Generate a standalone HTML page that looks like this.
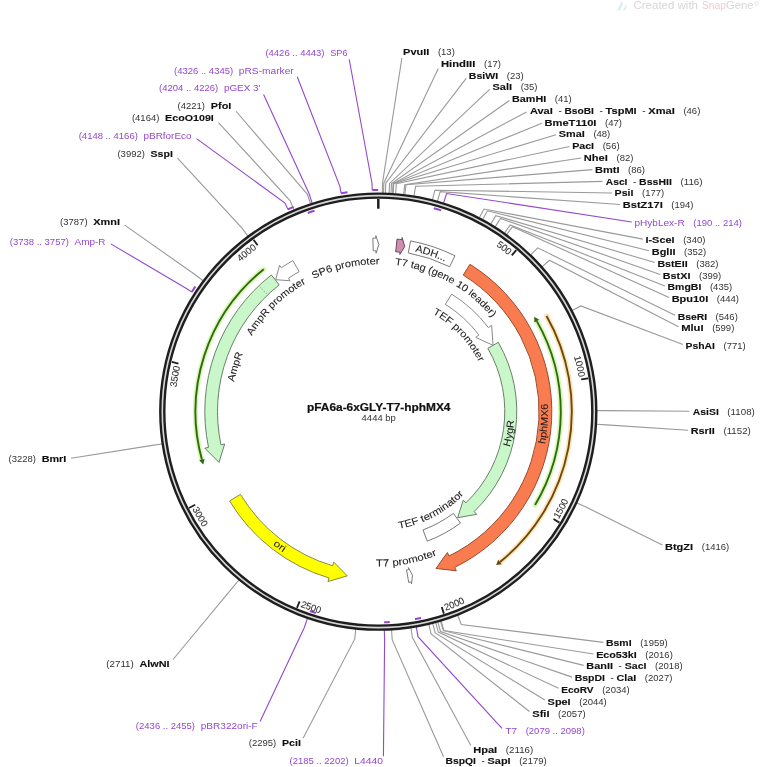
<!DOCTYPE html>
<html><head><meta charset="utf-8"><style>html,body{margin:0;padding:0;background:#fff;width:760px;height:767px;overflow:hidden}svg{display:block;filter:blur(0.35px)}text{font-family:"Liberation Sans",sans-serif}</style></head>
<body><svg width="760" height="767" viewBox="0 0 760 767" font-family="Liberation Sans, sans-serif" font-size="9.25">
<defs><path id="tk1" d="M495.87 245.75 A203.30 203.30 0 0 1 518.25 264.14"/><path id="tk2" d="M574.06 356.75 A203.30 203.30 0 0 1 580.49 390.38"/><path id="tk3" d="M558.71 519.28 A210.10 210.10 0 0 0 572.36 492.11"/><path id="tk4" d="M445.54 610.65 A210.10 210.10 0 0 0 473.57 598.86"/><path id="tk5" d="M300.14 606.62 A210.10 210.10 0 0 0 329.11 615.86"/><path id="tk6" d="M192.21 509.13 A210.10 210.10 0 0 0 208.23 534.97"/><path id="tk7" d="M176.46 387.29 A203.30 203.30 0 0 1 183.40 353.76"/><path id="tk8" d="M240.62 262.02 A203.30 203.30 0 0 1 267.67 241.04"/><path id="tp9" d="M313.68 279.12 A147.40 147.40 0 0 1 392.25 264.86"/><path id="tp10" d="M394.74 265.02 A147.50 147.50 0 0 1 499.84 328.03"/><path id="tp11" d="M251.82 335.90 A147.40 147.40 0 0 1 317.49 277.33"/><path id="tp12" d="M234.11 382.00 A147.20 147.20 0 0 1 248.61 341.97"/><path id="tp13" d="M432.60 313.64 A112.00 112.00 0 0 1 482.70 371.05"/><path id="tp14" d="M398.96 528.79 A119.00 119.00 0 0 0 470.72 486.56"/><path id="tp15" d="M376.14 566.58 A155.00 155.00 0 0 0 449.19 549.44"/><path id="tp16" d="M272.72 544.84 A170.00 170.00 0 0 0 295.86 560.27"/><path id="tp17" d="M509.65 446.87 A136.00 136.00 0 0 0 514.27 408.68"/><path id="tp18" d="M544.93 444.27 A169.80 169.80 0 0 0 546.57 388.87"/><path id="tp19" d="M415.03 251.66 A164.10 164.10 0 0 1 457.77 268.03"/></defs>
<rect width="760" height="767" fill="#fff"/>
<text x="403.05" y="54.90" font-size="9.4" font-weight="bold" stroke="#111" stroke-width="0.12" fill="#111" textLength="26.28" lengthAdjust="spacingAndGlyphs">PvuII</text>
<text x="437.93" y="54.90" font-size="9.0" fill="#333" textLength="16.89" lengthAdjust="spacingAndGlyphs">(13)</text>
<polyline points="382.32,193.04 382.50,183.14 401.89,58.00" fill="none" stroke="#9a9a9a" stroke-width="1.1"/>
<text x="440.95" y="66.70" font-size="9.4" font-weight="bold" stroke="#111" stroke-width="0.12" fill="#111" textLength="34.44" lengthAdjust="spacingAndGlyphs">HindIII</text>
<text x="483.99" y="66.70" font-size="9.0" fill="#333" textLength="16.89" lengthAdjust="spacingAndGlyphs">(17)</text>
<polyline points="383.55,193.06 383.79,183.17 438.30,68.56" fill="none" stroke="#9a9a9a" stroke-width="1.1"/>
<text x="468.85" y="78.60" font-size="9.4" font-weight="bold" stroke="#111" stroke-width="0.12" fill="#111" textLength="29.37" lengthAdjust="spacingAndGlyphs">BsiWI</text>
<text x="506.82" y="78.60" font-size="9.0" fill="#333" textLength="16.89" lengthAdjust="spacingAndGlyphs">(23)</text>
<polyline points="385.41,193.12 385.73,183.22 466.20,78.45" fill="none" stroke="#9a9a9a" stroke-width="1.1"/>
<text x="492.54" y="90.40" font-size="9.4" font-weight="bold" stroke="#111" stroke-width="0.12" fill="#111" textLength="19.52" lengthAdjust="spacingAndGlyphs">SalI</text>
<text x="520.65" y="90.40" font-size="9.0" fill="#333" textLength="16.89" lengthAdjust="spacingAndGlyphs">(35)</text>
<polyline points="389.11,193.27 389.60,183.38 489.70,89.35" fill="none" stroke="#9a9a9a" stroke-width="1.1"/>
<text x="512.05" y="102.20" font-size="9.4" font-weight="bold" stroke="#111" stroke-width="0.12" fill="#111" textLength="34.11" lengthAdjust="spacingAndGlyphs">BamHI</text>
<text x="554.76" y="102.20" font-size="9.0" fill="#333" textLength="16.89" lengthAdjust="spacingAndGlyphs">(41)</text>
<polyline points="390.96,193.37 391.54,183.48 509.40,100.56" fill="none" stroke="#9a9a9a" stroke-width="1.1"/>
<text x="529.95" y="114.00" font-size="9.4" font-weight="bold" stroke="#111" stroke-width="0.12" fill="#111" textLength="22.87" lengthAdjust="spacingAndGlyphs">AvaI</text>
<text x="558.43" y="114.00" font-size="9.4" fill="#111" textLength="3.34" lengthAdjust="spacingAndGlyphs">-</text>
<text x="564.51" y="114.00" font-size="9.4" font-weight="bold" stroke="#111" stroke-width="0.12" fill="#111" textLength="29.40" lengthAdjust="spacingAndGlyphs">BsoBI</text>
<text x="599.52" y="114.00" font-size="9.4" fill="#111" textLength="3.34" lengthAdjust="spacingAndGlyphs">-</text>
<text x="605.61" y="114.00" font-size="9.4" font-weight="bold" stroke="#111" stroke-width="0.12" fill="#111" textLength="31.08" lengthAdjust="spacingAndGlyphs">TspMI</text>
<text x="642.29" y="114.00" font-size="9.4" fill="#111" textLength="3.34" lengthAdjust="spacingAndGlyphs">-</text>
<text x="648.38" y="114.00" font-size="9.4" font-weight="bold" stroke="#111" stroke-width="0.12" fill="#111" textLength="26.45" lengthAdjust="spacingAndGlyphs">XmaI</text>
<text x="683.43" y="114.00" font-size="9.0" fill="#333" textLength="16.89" lengthAdjust="spacingAndGlyphs">(46)</text>
<polyline points="392.51,193.46 393.15,183.58 526.50,111.94" fill="none" stroke="#9a9a9a" stroke-width="1.1"/>
<text x="544.45" y="125.70" font-size="9.4" font-weight="bold" stroke="#111" stroke-width="0.12" fill="#111" textLength="52.02" lengthAdjust="spacingAndGlyphs">BmeT110I</text>
<text x="605.07" y="125.70" font-size="9.0" fill="#333" textLength="16.89" lengthAdjust="spacingAndGlyphs">(47)</text>
<polyline points="392.82,193.48 393.47,183.60 541.80,123.32" fill="none" stroke="#9a9a9a" stroke-width="1.1"/>
<text x="558.84" y="137.40" font-size="9.4" font-weight="bold" stroke="#111" stroke-width="0.12" fill="#111" textLength="25.98" lengthAdjust="spacingAndGlyphs">SmaI</text>
<text x="593.42" y="137.40" font-size="9.0" fill="#333" textLength="16.89" lengthAdjust="spacingAndGlyphs">(48)</text>
<polyline points="393.12,193.50 393.80,183.63 556.00,134.75" fill="none" stroke="#9a9a9a" stroke-width="1.1"/>
<text x="572.15" y="149.40" font-size="9.4" font-weight="bold" stroke="#111" stroke-width="0.12" fill="#111" textLength="21.95" lengthAdjust="spacingAndGlyphs">PacI</text>
<text x="602.70" y="149.40" font-size="9.0" fill="#333" textLength="16.89" lengthAdjust="spacingAndGlyphs">(56)</text>
<polyline points="395.59,193.68 396.37,183.82 569.50,146.54" fill="none" stroke="#9a9a9a" stroke-width="1.1"/>
<text x="583.85" y="161.00" font-size="9.4" font-weight="bold" stroke="#111" stroke-width="0.12" fill="#111" textLength="24.04" lengthAdjust="spacingAndGlyphs">NheI</text>
<text x="616.49" y="161.00" font-size="9.0" fill="#333" textLength="16.89" lengthAdjust="spacingAndGlyphs">(82)</text>
<polyline points="403.59,194.47 404.73,184.63 581.20,157.98" fill="none" stroke="#9a9a9a" stroke-width="1.1"/>
<text x="594.95" y="172.80" font-size="9.4" font-weight="bold" stroke="#111" stroke-width="0.12" fill="#111" textLength="24.55" lengthAdjust="spacingAndGlyphs">BmtI</text>
<text x="628.10" y="172.80" font-size="9.0" fill="#333" textLength="16.89" lengthAdjust="spacingAndGlyphs">(86)</text>
<polyline points="404.81,194.61 406.02,184.79 592.30,169.60" fill="none" stroke="#9a9a9a" stroke-width="1.1"/>
<text x="605.85" y="184.70" font-size="9.4" font-weight="bold" stroke="#111" stroke-width="0.12" fill="#111" textLength="21.59" lengthAdjust="spacingAndGlyphs">AscI</text>
<text x="633.04" y="184.70" font-size="9.4" fill="#111" textLength="3.34" lengthAdjust="spacingAndGlyphs">-</text>
<text x="639.13" y="184.70" font-size="9.4" font-weight="bold" stroke="#111" stroke-width="0.12" fill="#111" textLength="32.69" lengthAdjust="spacingAndGlyphs">BssHII</text>
<text x="680.42" y="184.70" font-size="9.0" fill="#333" textLength="22.18" lengthAdjust="spacingAndGlyphs">(116)</text>
<polyline points="413.99,195.93 415.61,186.17 602.40,181.36" fill="none" stroke="#9a9a9a" stroke-width="1.1"/>
<text x="614.55" y="196.40" font-size="9.4" font-weight="bold" stroke="#111" stroke-width="0.12" fill="#111" textLength="18.90" lengthAdjust="spacingAndGlyphs">PsiI</text>
<text x="642.05" y="196.40" font-size="9.0" fill="#333" textLength="22.18" lengthAdjust="spacingAndGlyphs">(177)</text>
<polyline points="432.44,199.81 434.89,190.22 611.90,192.96" fill="none" stroke="#9a9a9a" stroke-width="1.1"/>
<text x="622.75" y="208.10" font-size="9.4" font-weight="bold" stroke="#111" stroke-width="0.12" fill="#111" textLength="40.00" lengthAdjust="spacingAndGlyphs">BstZ17I</text>
<text x="671.35" y="208.10" font-size="9.0" fill="#333" textLength="22.18" lengthAdjust="spacingAndGlyphs">(194)</text>
<polyline points="437.51,201.17 440.19,191.64 620.10,204.52" fill="none" stroke="#9a9a9a" stroke-width="1.1"/>
<text x="645.45" y="243.00" font-size="9.4" font-weight="bold" stroke="#111" stroke-width="0.12" fill="#111" textLength="29.14" lengthAdjust="spacingAndGlyphs">I-SceI</text>
<text x="683.19" y="243.00" font-size="9.0" fill="#333" textLength="22.18" lengthAdjust="spacingAndGlyphs">(340)</text>
<polyline points="479.38,217.77 483.96,209.00 642.80,239.13" fill="none" stroke="#9a9a9a" stroke-width="1.1"/>
<text x="651.75" y="254.70" font-size="9.4" font-weight="bold" stroke="#111" stroke-width="0.12" fill="#111" textLength="23.73" lengthAdjust="spacingAndGlyphs">BglII</text>
<text x="684.08" y="254.70" font-size="9.0" fill="#333" textLength="22.18" lengthAdjust="spacingAndGlyphs">(352)</text>
<polyline points="482.66,219.52 487.38,210.82 649.10,250.68" fill="none" stroke="#9a9a9a" stroke-width="1.1"/>
<text x="657.45" y="266.70" font-size="9.4" font-weight="bold" stroke="#111" stroke-width="0.12" fill="#111" textLength="30.18" lengthAdjust="spacingAndGlyphs">BstEII</text>
<text x="696.23" y="266.70" font-size="9.0" fill="#333" textLength="22.18" lengthAdjust="spacingAndGlyphs">(382)</text>
<polyline points="490.71,224.12 495.80,215.62 654.80,262.56" fill="none" stroke="#9a9a9a" stroke-width="1.1"/>
<text x="662.85" y="278.70" font-size="9.4" font-weight="bold" stroke="#111" stroke-width="0.12" fill="#111" textLength="27.55" lengthAdjust="spacingAndGlyphs">BstXI</text>
<text x="699.00" y="278.70" font-size="9.0" fill="#333" textLength="22.18" lengthAdjust="spacingAndGlyphs">(399)</text>
<polyline points="495.18,226.87 500.47,218.51 660.20,274.42" fill="none" stroke="#9a9a9a" stroke-width="1.1"/>
<text x="667.55" y="290.40" font-size="9.4" font-weight="bold" stroke="#111" stroke-width="0.12" fill="#111" textLength="33.80" lengthAdjust="spacingAndGlyphs">BmgBI</text>
<text x="709.95" y="290.40" font-size="9.0" fill="#333" textLength="22.18" lengthAdjust="spacingAndGlyphs">(435)</text>
<polyline points="504.43,233.06 510.14,224.97 664.90,286.01" fill="none" stroke="#9a9a9a" stroke-width="1.1"/>
<text x="671.65" y="302.10" font-size="9.4" font-weight="bold" stroke="#111" stroke-width="0.12" fill="#111" textLength="36.57" lengthAdjust="spacingAndGlyphs">Bpu10I</text>
<text x="716.82" y="302.10" font-size="9.0" fill="#333" textLength="22.18" lengthAdjust="spacingAndGlyphs">(444)</text>
<polyline points="506.69,234.68 512.50,226.66 669.00,297.57" fill="none" stroke="#9a9a9a" stroke-width="1.1"/>
<text x="677.65" y="319.80" font-size="9.4" font-weight="bold" stroke="#111" stroke-width="0.12" fill="#111" textLength="29.39" lengthAdjust="spacingAndGlyphs">BseRI</text>
<text x="715.64" y="319.80" font-size="9.0" fill="#333" textLength="22.18" lengthAdjust="spacingAndGlyphs">(546)</text>
<polyline points="530.78,254.96 537.69,247.87 675.00,315.17" fill="none" stroke="#9a9a9a" stroke-width="1.1"/>
<text x="681.15" y="331.40" font-size="9.4" font-weight="bold" stroke="#111" stroke-width="0.12" fill="#111" textLength="22.40" lengthAdjust="spacingAndGlyphs">MluI</text>
<text x="712.15" y="331.40" font-size="9.0" fill="#333" textLength="22.18" lengthAdjust="spacingAndGlyphs">(599)</text>
<polyline points="542.08,266.82 549.50,260.26 678.50,326.71" fill="none" stroke="#9a9a9a" stroke-width="1.1"/>
<text x="685.55" y="348.80" font-size="9.4" font-weight="bold" stroke="#111" stroke-width="0.12" fill="#111" textLength="29.47" lengthAdjust="spacingAndGlyphs">PshAI</text>
<text x="723.62" y="348.80" font-size="9.0" fill="#333" textLength="22.18" lengthAdjust="spacingAndGlyphs">(771)</text>
<polyline points="572.13,310.52 580.90,305.94 682.90,344.46" fill="none" stroke="#9a9a9a" stroke-width="1.1"/>
<text x="692.85" y="414.60" font-size="9.4" font-weight="bold" stroke="#111" stroke-width="0.12" fill="#111" textLength="25.94" lengthAdjust="spacingAndGlyphs">AsiSI</text>
<text x="727.39" y="414.60" font-size="9.0" fill="#333" textLength="27.46" lengthAdjust="spacingAndGlyphs">(1108)</text>
<polyline points="596.90,410.67 606.80,410.63 689.40,411.18" fill="none" stroke="#9a9a9a" stroke-width="1.1"/>
<text x="690.75" y="433.80" font-size="9.4" font-weight="bold" stroke="#111" stroke-width="0.12" fill="#111" textLength="24.07" lengthAdjust="spacingAndGlyphs">RsrII</text>
<text x="723.42" y="433.80" font-size="9.0" fill="#333" textLength="27.46" lengthAdjust="spacingAndGlyphs">(1152)</text>
<polyline points="596.53,424.26 606.42,424.84 688.10,430.23" fill="none" stroke="#9a9a9a" stroke-width="1.1"/>
<text x="664.95" y="549.60" font-size="9.4" font-weight="bold" stroke="#111" stroke-width="0.12" fill="#111" textLength="28.24" lengthAdjust="spacingAndGlyphs">BtgZI</text>
<text x="701.79" y="549.60" font-size="9.0" fill="#333" textLength="27.46" lengthAdjust="spacingAndGlyphs">(1416)</text>
<polyline points="576.89,502.97 585.88,507.11 662.30,544.96" fill="none" stroke="#9a9a9a" stroke-width="1.1"/>
<text x="605.95" y="646.10" font-size="9.4" font-weight="bold" stroke="#111" stroke-width="0.12" fill="#111" textLength="25.64" lengthAdjust="spacingAndGlyphs">BsmI</text>
<text x="640.19" y="646.10" font-size="9.0" fill="#333" textLength="27.46" lengthAdjust="spacingAndGlyphs">(1959)</text>
<polyline points="457.72,615.26 461.32,624.48 603.30,642.38" fill="none" stroke="#9a9a9a" stroke-width="1.1"/>
<text x="596.15" y="657.80" font-size="9.4" font-weight="bold" stroke="#111" stroke-width="0.12" fill="#111" textLength="40.62" lengthAdjust="spacingAndGlyphs">Eco53kI</text>
<text x="645.37" y="657.80" font-size="9.0" fill="#333" textLength="27.46" lengthAdjust="spacingAndGlyphs">(2016)</text>
<polyline points="441.07,620.99 443.91,630.48 593.50,654.01" fill="none" stroke="#9a9a9a" stroke-width="1.1"/>
<text x="586.25" y="669.40" font-size="9.4" font-weight="bold" stroke="#111" stroke-width="0.12" fill="#111" textLength="26.76" lengthAdjust="spacingAndGlyphs">BanII</text>
<text x="618.61" y="669.40" font-size="9.4" fill="#111" textLength="3.34" lengthAdjust="spacingAndGlyphs">-</text>
<text x="624.70" y="669.40" font-size="9.4" font-weight="bold" stroke="#111" stroke-width="0.12" fill="#111" textLength="21.83" lengthAdjust="spacingAndGlyphs">SacI</text>
<text x="655.13" y="669.40" font-size="9.0" fill="#333" textLength="27.46" lengthAdjust="spacingAndGlyphs">(2018)</text>
<polyline points="440.48,621.17 443.30,630.66 583.60,665.38" fill="none" stroke="#9a9a9a" stroke-width="1.1"/>
<text x="574.65" y="681.40" font-size="9.4" font-weight="bold" stroke="#111" stroke-width="0.12" fill="#111" textLength="30.30" lengthAdjust="spacingAndGlyphs">BspDI</text>
<text x="610.55" y="681.40" font-size="9.4" fill="#111" textLength="3.34" lengthAdjust="spacingAndGlyphs">-</text>
<text x="616.64" y="681.40" font-size="9.4" font-weight="bold" stroke="#111" stroke-width="0.12" fill="#111" textLength="19.64" lengthAdjust="spacingAndGlyphs">ClaI</text>
<text x="644.88" y="681.40" font-size="9.0" fill="#333" textLength="27.46" lengthAdjust="spacingAndGlyphs">(2027)</text>
<polyline points="437.81,621.94 440.50,631.47 572.00,677.13" fill="none" stroke="#9a9a9a" stroke-width="1.1"/>
<text x="561.15" y="692.90" font-size="9.4" font-weight="bold" stroke="#111" stroke-width="0.12" fill="#111" textLength="32.44" lengthAdjust="spacingAndGlyphs">EcoRV</text>
<text x="602.19" y="692.90" font-size="9.0" fill="#333" textLength="27.46" lengthAdjust="spacingAndGlyphs">(2034)</text>
<polyline points="435.72,622.52 438.32,632.08 558.50,688.33" fill="none" stroke="#9a9a9a" stroke-width="1.1"/>
<text x="547.64" y="704.90" font-size="9.4" font-weight="bold" stroke="#111" stroke-width="0.12" fill="#111" textLength="23.00" lengthAdjust="spacingAndGlyphs">SpeI</text>
<text x="579.23" y="704.90" font-size="9.0" fill="#333" textLength="27.46" lengthAdjust="spacingAndGlyphs">(2044)</text>
<polyline points="432.74,623.31 435.20,632.90 544.80,699.97" fill="none" stroke="#9a9a9a" stroke-width="1.1"/>
<text x="532.24" y="716.90" font-size="9.4" font-weight="bold" stroke="#111" stroke-width="0.12" fill="#111" textLength="17.30" lengthAdjust="spacingAndGlyphs">SfiI</text>
<text x="558.13" y="716.90" font-size="9.0" fill="#333" textLength="27.46" lengthAdjust="spacingAndGlyphs">(2057)</text>
<polyline points="428.84,624.28 431.12,633.91 529.40,711.53" fill="none" stroke="#9a9a9a" stroke-width="1.1"/>
<text x="473.15" y="752.80" font-size="9.4" font-weight="bold" stroke="#111" stroke-width="0.12" fill="#111" textLength="24.05" lengthAdjust="spacingAndGlyphs">HpaI</text>
<text x="505.80" y="752.80" font-size="9.0" fill="#333" textLength="27.46" lengthAdjust="spacingAndGlyphs">(2116)</text>
<polyline points="410.94,627.75 412.42,637.54 470.83,745.40" fill="none" stroke="#9a9a9a" stroke-width="1.1"/>
<text x="445.45" y="764.10" font-size="9.4" font-weight="bold" stroke="#111" stroke-width="0.12" fill="#111" textLength="30.48" lengthAdjust="spacingAndGlyphs">BspQI</text>
<text x="481.53" y="764.10" font-size="9.4" fill="#111" textLength="3.34" lengthAdjust="spacingAndGlyphs">-</text>
<text x="487.62" y="764.10" font-size="9.4" font-weight="bold" stroke="#111" stroke-width="0.12" fill="#111" textLength="22.97" lengthAdjust="spacingAndGlyphs">SapI</text>
<text x="519.19" y="764.10" font-size="9.0" fill="#333" textLength="27.46" lengthAdjust="spacingAndGlyphs">(2179)</text>
<polyline points="391.58,629.80 392.18,639.68 443.54,756.70" fill="none" stroke="#9a9a9a" stroke-width="1.1"/>
<text x="8.50" y="462.40" font-size="9.0" fill="#333" textLength="27.46" lengthAdjust="spacingAndGlyphs">(3228)</text>
<text x="41.66" y="462.40" font-size="9.4" font-weight="bold" stroke="#111" stroke-width="0.12" fill="#111" textLength="24.69" lengthAdjust="spacingAndGlyphs">BmrI</text>
<polyline points="162.10,443.93 152.31,445.40 71.00,458.29" fill="none" stroke="#9a9a9a" stroke-width="1.1"/>
<text x="106.33" y="666.90" font-size="9.0" fill="#333" textLength="27.46" lengthAdjust="spacingAndGlyphs">(2711)</text>
<text x="139.50" y="666.90" font-size="9.4" font-weight="bold" stroke="#111" stroke-width="0.12" fill="#111" textLength="30.06" lengthAdjust="spacingAndGlyphs">AlwNI</text>
<polyline points="238.92,580.00 232.61,587.63 173.02,659.50" fill="none" stroke="#9a9a9a" stroke-width="1.1"/>
<text x="248.82" y="745.60" font-size="9.0" fill="#333" textLength="27.46" lengthAdjust="spacingAndGlyphs">(2295)</text>
<text x="281.98" y="745.60" font-size="9.4" font-weight="bold" stroke="#111" stroke-width="0.12" fill="#111" textLength="18.87" lengthAdjust="spacingAndGlyphs">PciI</text>
<polyline points="355.78,629.04 354.76,638.88 303.08,738.20" fill="none" stroke="#9a9a9a" stroke-width="1.1"/>
<text x="60.10" y="225.40" font-size="9.0" fill="#333" textLength="27.46" lengthAdjust="spacingAndGlyphs">(3787)</text>
<text x="93.26" y="225.40" font-size="9.4" font-weight="bold" stroke="#111" stroke-width="0.12" fill="#111" textLength="26.80" lengthAdjust="spacingAndGlyphs">XmnI</text>
<polyline points="203.21,280.72 195.28,274.79 124.70,225.16" fill="none" stroke="#9a9a9a" stroke-width="1.1"/>
<text x="117.46" y="156.70" font-size="9.0" fill="#333" textLength="27.46" lengthAdjust="spacingAndGlyphs">(3992)</text>
<text x="150.62" y="156.70" font-size="9.4" font-weight="bold" stroke="#111" stroke-width="0.12" fill="#111" textLength="22.23" lengthAdjust="spacingAndGlyphs">SspI</text>
<polyline points="247.92,236.14 242.01,228.19 177.50,158.18" fill="none" stroke="#9a9a9a" stroke-width="1.1"/>
<text x="131.92" y="121.00" font-size="9.0" fill="#333" textLength="27.46" lengthAdjust="spacingAndGlyphs">(4164)</text>
<text x="165.08" y="121.00" font-size="9.4" font-weight="bold" stroke="#111" stroke-width="0.12" fill="#111" textLength="48.77" lengthAdjust="spacingAndGlyphs">EcoO109I</text>
<polyline points="294.00,209.91 290.19,200.77 218.50,122.51" fill="none" stroke="#9a9a9a" stroke-width="1.1"/>
<text x="177.59" y="109.40" font-size="9.0" fill="#333" textLength="27.46" lengthAdjust="spacingAndGlyphs">(4221)</text>
<text x="210.75" y="109.40" font-size="9.4" font-weight="bold" stroke="#111" stroke-width="0.12" fill="#111" textLength="20.60" lengthAdjust="spacingAndGlyphs">PfoI</text>
<polyline points="310.51,203.78 307.44,194.36 236.00,111.24" fill="none" stroke="#9a9a9a" stroke-width="1.1"/>
<text x="634.46" y="225.70" font-size="9.4" fill="#9447cf" textLength="50.26" lengthAdjust="spacingAndGlyphs">pHybLex-R</text>
<text x="693.32" y="225.70" font-size="9.0" fill="#9447cf" textLength="48.59" lengthAdjust="spacingAndGlyphs">(190 .. 214)</text>
<path d="M433.82 208.24 A210.80 210.80 0 0 1 441.25 210.42" fill="none" stroke="#9447cf" stroke-width="2.0"/>
<polyline points="443.58,202.98 446.54,193.53 631.80,221.92" fill="none" stroke="#9447cf" stroke-width="1.1"/>
<text x="505.53" y="734.40" font-size="9.4" fill="#9447cf" textLength="11.54" lengthAdjust="spacingAndGlyphs">T7</text>
<text x="525.66" y="734.40" font-size="9.0" fill="#9447cf" textLength="59.15" lengthAdjust="spacingAndGlyphs">(2079 .. 2098)</text>
<path d="M421.07 618.02 A210.80 210.80 0 0 1 414.92 619.19" fill="none" stroke="#9447cf" stroke-width="2.0"/>
<polyline points="416.28,626.88 418.00,636.63 502.00,728.27" fill="none" stroke="#9447cf" stroke-width="1.1"/>
<text x="135.89" y="728.90" font-size="9.0" fill="#9447cf" textLength="59.15" lengthAdjust="spacingAndGlyphs">(2436 .. 2455)</text>
<text x="200.75" y="728.90" font-size="9.4" fill="#9447cf" textLength="56.99" lengthAdjust="spacingAndGlyphs">pBR322ori-F</text>
<path d="M315.91 612.96 A210.80 210.80 0 0 1 309.96 611.02" fill="none" stroke="#9447cf" stroke-width="2.0"/>
<polyline points="307.44,618.40 304.23,627.76 260.08,721.50" fill="none" stroke="#9447cf" stroke-width="1.1"/>
<text x="289.47" y="763.60" font-size="9.0" fill="#9447cf" textLength="59.15" lengthAdjust="spacingAndGlyphs">(2185 .. 2202)</text>
<text x="354.32" y="763.60" font-size="9.4" fill="#9447cf" textLength="28.69" lengthAdjust="spacingAndGlyphs">L4440</text>
<path d="M389.77 622.09 A210.80 210.80 0 0 1 384.11 622.32" fill="none" stroke="#9447cf" stroke-width="2.0"/>
<polyline points="384.33,630.12 384.60,640.01 383.44,756.20" fill="none" stroke="#9447cf" stroke-width="1.1"/>
<text x="9.74" y="244.60" font-size="9.0" fill="#9447cf" textLength="59.15" lengthAdjust="spacingAndGlyphs">(3738 .. 3757)</text>
<text x="74.59" y="244.60" font-size="9.4" fill="#9447cf" textLength="30.97" lengthAdjust="spacingAndGlyphs">Amp-R</text>
<path d="M191.79 291.93 A221.60 221.60 0 0 1 195.43 286.44" fill="none" stroke="#9447cf" stroke-width="2.0"/>
<polyline points="191.79,291.93 185.99,288.20 110.80,243.85" fill="none" stroke="#9447cf" stroke-width="1.1"/>
<text x="78.70" y="138.70" font-size="9.0" fill="#9447cf" textLength="59.15" lengthAdjust="spacingAndGlyphs">(4148 .. 4166)</text>
<text x="143.55" y="138.70" font-size="9.4" fill="#9447cf" textLength="47.95" lengthAdjust="spacingAndGlyphs">pBRforEco</text>
<path d="M287.81 209.32 A221.60 221.60 0 0 1 293.57 206.84" fill="none" stroke="#9447cf" stroke-width="2.0"/>
<polyline points="287.81,209.32 285.00,203.02 196.50,138.58" fill="none" stroke="#9447cf" stroke-width="1.1"/>
<text x="159.04" y="91.40" font-size="9.0" fill="#9447cf" textLength="59.15" lengthAdjust="spacingAndGlyphs">(4204 .. 4226)</text>
<text x="223.90" y="91.40" font-size="9.4" fill="#9447cf" textLength="36.59" lengthAdjust="spacingAndGlyphs">pGEX 3'</text>
<path d="M307.71 212.97 A210.80 210.80 0 0 1 314.49 210.69" fill="none" stroke="#9447cf" stroke-width="2.0"/>
<polyline points="312.13,203.25 309.14,193.82 263.58,94.50" fill="none" stroke="#9447cf" stroke-width="1.1"/>
<text x="174.01" y="73.70" font-size="9.0" fill="#9447cf" textLength="59.15" lengthAdjust="spacingAndGlyphs">(4326 .. 4345)</text>
<text x="238.86" y="73.70" font-size="9.4" fill="#9447cf" textLength="54.84" lengthAdjust="spacingAndGlyphs">pRS-marker</text>
<path d="M341.04 193.16 A221.60 221.60 0 0 1 347.54 192.15" fill="none" stroke="#9447cf" stroke-width="2.0"/>
<polyline points="341.04,193.16 339.88,186.35 297.23,76.80" fill="none" stroke="#9447cf" stroke-width="1.1"/>
<text x="265.40" y="56.15" font-size="9.0" fill="#9447cf" textLength="59.15" lengthAdjust="spacingAndGlyphs">(4426 .. 4443)</text>
<text x="330.25" y="56.15" font-size="9.4" fill="#9447cf" textLength="17.33" lengthAdjust="spacingAndGlyphs">SP6</text>
<path d="M372.19 190.08 A221.60 221.60 0 0 1 378.14 190.00" fill="none" stroke="#9447cf" stroke-width="2.0"/>
<polyline points="372.19,190.08 372.00,183.19 349.20,59.25" fill="none" stroke="#9447cf" stroke-width="1.1"/>
<g><path d="M617.5 10.5 L621.5 2 L623.2 2.8 L619.6 10.5 Z" fill="#d3e8ef"/><path d="M623 10.5 L625.6 5.2 L627 5.9 L624.8 10.5Z" fill="#dcedf2"/></g>
<text x="633.5" y="9.3" font-size="10" fill="#d6d6d6" textLength="64.5" lengthAdjust="spacingAndGlyphs">Created with</text>
<text x="702" y="9.3" font-size="10" fill="#f2cccc" textLength="24" lengthAdjust="spacingAndGlyphs">Snap</text>
<text x="726" y="9.3" font-size="10" fill="#d6d6d6" textLength="27.5" lengthAdjust="spacingAndGlyphs">Gene</text>
<text x="754.3" y="5.5" font-size="6" fill="#d6d6d6">®</text>
<circle cx="378.3" cy="411.6" r="216.0" fill="none" stroke="#1e1e1e" stroke-width="6.4"/>
<circle cx="378.3" cy="411.6" r="216.0" fill="none" stroke="#d6d6d6" stroke-width="1.6"/>
<line x1="378.30" y1="199.00" x2="378.30" y2="208.70" stroke="#1e1e1e" stroke-width="2.5"/>
<line x1="516.25" y1="250.10" x2="511.77" y2="255.35" stroke="#1e1e1e" stroke-width="1.8"/>
<text font-size="9.5" fill="#333" stroke="#333" stroke-width="0.1"><textPath href="#tk1" textLength="15.85" lengthAdjust="spacingAndGlyphs">500</textPath></text>
<line x1="588.09" y1="378.40" x2="581.27" y2="379.48" stroke="#1e1e1e" stroke-width="1.8"/>
<text font-size="9.5" fill="#333" stroke="#333" stroke-width="0.1"><textPath href="#tk2" textLength="21.13" lengthAdjust="spacingAndGlyphs">1000</textPath></text>
<line x1="559.38" y1="522.62" x2="553.49" y2="519.01" stroke="#1e1e1e" stroke-width="1.8"/>
<text font-size="9.5" fill="#333" stroke="#333" stroke-width="0.1"><textPath href="#tk3" textLength="21.13" lengthAdjust="spacingAndGlyphs">1500</textPath></text>
<line x1="443.88" y1="613.62" x2="441.75" y2="607.06" stroke="#1e1e1e" stroke-width="1.8"/>
<text font-size="9.5" fill="#333" stroke="#333" stroke-width="0.1"><textPath href="#tk4" textLength="21.13" lengthAdjust="spacingAndGlyphs">2000</textPath></text>
<line x1="296.95" y1="607.80" x2="299.59" y2="601.43" stroke="#1e1e1e" stroke-width="1.8"/>
<text font-size="9.5" fill="#333" stroke="#333" stroke-width="0.1"><textPath href="#tk5" textLength="21.13" lengthAdjust="spacingAndGlyphs">2500</textPath></text>
<line x1="189.01" y1="507.95" x2="195.16" y2="504.82" stroke="#1e1e1e" stroke-width="1.8"/>
<text font-size="9.5" fill="#333" stroke="#333" stroke-width="0.1"><textPath href="#tk6" textLength="21.13" lengthAdjust="spacingAndGlyphs">3000</textPath></text>
<line x1="171.79" y1="361.91" x2="178.50" y2="363.53" stroke="#1e1e1e" stroke-width="1.8"/>
<text font-size="9.5" fill="#333" stroke="#333" stroke-width="0.1"><textPath href="#tk7" textLength="21.13" lengthAdjust="spacingAndGlyphs">3500</textPath></text>
<line x1="253.55" y1="239.69" x2="257.60" y2="245.28" stroke="#1e1e1e" stroke-width="1.8"/>
<text font-size="9.5" fill="#333" stroke="#333" stroke-width="0.1"><textPath href="#tk8" textLength="21.13" lengthAdjust="spacingAndGlyphs">4000</textPath></text>
<path d="M271.36 274.97 A173.50 173.50 0 0 0 208.53 447.38 L204.81 448.16 L219.06 462.42 L224.67 443.97 L220.96 444.76 A160.80 160.80 0 0 1 279.19 284.97 Z" fill="#c9f7c9" stroke="#6a806a" stroke-width="1.0" stroke-linejoin="miter"/>
<line x1="266.58" y1="293.87" x2="259.90" y2="286.84" stroke="#556655" stroke-width="0.8" stroke-dasharray="1 2"/>
<path d="M292.86 260.59 A173.50 173.50 0 0 0 281.28 267.76 L279.60 265.27 L275.62 279.70 L290.06 280.78 L288.38 278.29 A160.80 160.80 0 0 1 299.12 271.65 Z" fill="#ffffff" stroke="#8a8a8a" stroke-width="1.0" stroke-linejoin="miter"/>
<path d="M229.58 500.96 A173.50 173.50 0 0 0 329.02 577.96 L327.94 581.60 L347.27 575.84 L333.71 562.13 L332.63 565.78 A160.80 160.80 0 0 1 240.47 494.42 Z" fill="#ffff00" stroke="#8a8a40" stroke-width="1.0" stroke-linejoin="miter"/>
<path d="M469.98 264.30 A173.50 173.50 0 0 1 454.63 567.41 L456.30 570.82 L436.02 568.47 L447.37 552.59 L449.04 556.00 A160.80 160.80 0 0 0 463.27 275.09 Z" fill="#f97c50" stroke="#9a4a2a" stroke-width="1.0" stroke-linejoin="miter"/>
<path d="M372.85 238.19 A173.50 173.50 0 0 1 375.88 238.12 L375.84 235.62 L378.88 244.45 L376.09 253.32 L376.05 250.82 A160.80 160.80 0 0 0 373.25 250.88 Z" fill="#ffffff" stroke="#7a7a7a" stroke-width="1.0" stroke-linejoin="miter"/>
<path d="M397.04 239.11 A173.50 173.50 0 0 1 401.85 239.71 L402.15 237.53 L404.74 246.55 L399.82 254.47 L400.12 252.29 A160.80 160.80 0 0 0 395.67 251.74 Z" fill="#cc8fb0" stroke="#6a4a5a" stroke-width="1.0" stroke-linejoin="miter"/>
<path d="M410.55 240.92 A173.70 173.70 0 0 1 454.99 255.75 L449.60 266.69 A161.50 161.50 0 0 0 408.29 252.91 Z" fill="#ffffff" stroke="#7a7a7a" stroke-width="1.0"/>
<path d="M408.73 582.41 A173.50 173.50 0 0 0 411.11 581.97 L411.49 583.93 L412.48 575.22 L408.33 567.54 L408.71 569.50 A160.80 160.80 0 0 1 406.50 569.91 Z" fill="#ffffff" stroke="#7a7a7a" stroke-width="1.0" stroke-linejoin="miter"/>
<path d="M498.24 342.35 A138.50 138.50 0 0 1 474.16 511.56 L476.79 514.31 L457.67 517.70 L463.23 500.16 L465.86 502.90 A126.50 126.50 0 0 0 487.85 348.35 Z" fill="#c9f7c9" stroke="#6a806a" stroke-width="1.0" stroke-linejoin="miter"/>
<path d="M451.69 294.15 A138.50 138.50 0 0 1 488.47 327.67 L491.65 325.25 L493.05 345.35 L475.75 337.37 L478.93 334.94 A126.50 126.50 0 0 0 445.33 304.32 Z" fill="#ffffff" stroke="#8a8a8a" stroke-width="1.0" stroke-linejoin="miter"/>
<path d="M460.49 523.08 A138.50 138.50 0 0 1 427.26 541.16 L423.01 529.93 A126.50 126.50 0 0 0 453.37 513.42 Z" fill="#ffffff" stroke="#7a7a7a" stroke-width="1.0"/>
<path d="M263.76 269.14 A182.80 182.80 0 0 0 201.92 459.63" fill="none" stroke="#d4f7a8" stroke-width="5.2" stroke-linecap="round" opacity="0.85"/>
<path d="M263.76 269.14 A182.80 182.80 0 0 0 201.92 459.63" fill="none" stroke="#2f6a12" stroke-width="1.9"/>
<polygon points="199.22,460.36 203.30,464.44 204.62,458.89" fill="#2f6a12"/>
<path d="M535.06 505.05 A182.50 182.50 0 0 0 536.78 321.10" fill="none" stroke="#d4f7a8" stroke-width="5.2" stroke-linecap="round" opacity="0.85"/>
<path d="M535.06 505.05 A182.50 182.50 0 0 0 536.78 321.10" fill="none" stroke="#2f6a12" stroke-width="1.9"/>
<polygon points="539.21,319.71 534.24,316.79 534.35,322.48" fill="#2f6a12"/>
<path d="M546.55 316.02 A193.50 193.50 0 0 1 500.02 562.02" fill="none" stroke="#ffe0a8" stroke-width="5.2" stroke-linecap="round" opacity="0.85"/>
<path d="M546.55 316.02 A193.50 193.50 0 0 1 500.02 562.02" fill="none" stroke="#6b4a10" stroke-width="1.9"/>
<polygon points="501.78,564.20 496.10,565.11 498.26,559.84" fill="#6b4a10"/>
<text font-size="10.0" fill="#222" stroke="#222" stroke-width="0.08"><textPath href="#tp9" textLength="68.00" lengthAdjust="spacingAndGlyphs">SP6 promoter</textPath></text>
<text font-size="10.0" fill="#222" stroke="#222" stroke-width="0.08"><textPath href="#tp10" textLength="113.50" lengthAdjust="spacingAndGlyphs">T7 tag (gene 10 leader)</textPath></text>
<text font-size="10.0" fill="#222" stroke="#222" stroke-width="0.08"><textPath href="#tp11" textLength="76.50" lengthAdjust="spacingAndGlyphs">AmpR promoter</textPath></text>
<text font-size="10.0" fill="#222" stroke="#222" stroke-width="0.08"><textPath href="#tp12" textLength="29.88" lengthAdjust="spacingAndGlyphs">AmpR</textPath></text>
<text font-size="10.0" fill="#222" stroke="#222" stroke-width="0.08"><textPath href="#tp13" textLength="67.98" lengthAdjust="spacingAndGlyphs">TEF promoter</textPath></text>
<text font-size="10.0" fill="#222" stroke="#222" stroke-width="0.08"><textPath href="#tp14" textLength="74.68" lengthAdjust="spacingAndGlyphs">TEF terminator</textPath></text>
<text font-size="10.0" fill="#222" stroke="#222" stroke-width="0.08"><textPath href="#tp15" textLength="62.27" lengthAdjust="spacingAndGlyphs">T7 promoter</textPath></text>
<text font-size="10.0" fill="#222" stroke="#222" stroke-width="0.08"><textPath href="#tp16" textLength="13.01" lengthAdjust="spacingAndGlyphs">ori</textPath></text>
<text font-size="10.0" fill="#222" stroke="#222" stroke-width="0.08"><textPath href="#tp17" textLength="26.73" lengthAdjust="spacingAndGlyphs">HygR</textPath></text>
<text font-size="10.0" fill="#222" stroke="#222" stroke-width="0.08"><textPath href="#tp18" textLength="40.86" lengthAdjust="spacingAndGlyphs">hphMX6</textPath></text>
<text font-size="10.0" fill="#222" stroke="#222" stroke-width="0.08"><textPath href="#tp19" textLength="31.60" lengthAdjust="spacingAndGlyphs">ADH...</textPath></text>
<text x="307.0" y="411.3" font-size="10" font-weight="bold" fill="#111" stroke="#111" stroke-width="0.2" textLength="143.5" lengthAdjust="spacingAndGlyphs">pFA6a-6xGLY-T7-hphMX4</text>
<text x="361.6" y="420.9" font-size="8.3" fill="#333" textLength="34.3" lengthAdjust="spacingAndGlyphs">4444 bp</text>
</svg></body></html>
